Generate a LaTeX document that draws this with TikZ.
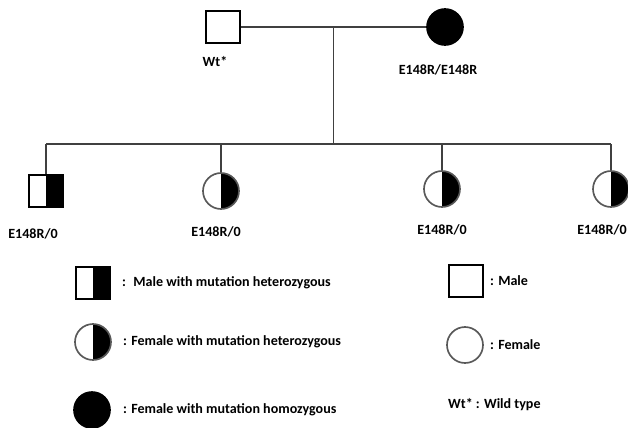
\documentclass[tikz,border=0pt]{standalone}
\usepackage[svgnames]{xcolor}
\usepackage{fontspec}
\setmainfont{Carlito}
\usetikzlibrary{calc}

\begin{document}
\begin{tikzpicture}[x=0.3mm,y=-0.3mm,
        font=\bfseries\fontsize{12}{14}\selectfont,
        male/.style={draw=black,line width=0.55mm,minimum width=10.2mm,minimum height=9.6mm,inner sep=0pt},
        female/.style={circle,draw=black!65,line width=0.5mm,minimum size=10.8mm,inner sep=0pt},
        halfright/.style={path picture={\fill[black] (path picture bounding box.north) rectangle (path picture bounding box.south east);}},
        affected/.style={fill=black,draw=black},
        link/.style={draw=black!75,line width=0.55mm}]
            \useasboundingbox (0,0) rectangle (628,427);
            % parents
            \node[male] (father) at (223,27) {};
            \node[female,affected] (mother) at (445,27) {};
            \node (wt) at (215,62) {Wt*};
            \node (hom) at (438,70) {E148R/E148R};
            \draw[link] (father) -- (mother);
            \coordinate (mid) at ($(father.east)!0.5!(mother.west)$);
            \coordinate (sib) at ($(mid)+(0,117)$);
            % children
            \node[male,halfright] (son) at (46,191) {};
            \node[female,halfright] (d1) at (221,191) {};
            \node[female,halfright] (d2) at (442,189) {};
            \node[female,halfright] (d3) at (611,189) {};
            \node (l1) at (33,234) {E148R/0};
            \node (l2) at (216,232) {E148R/0};
            \node (l3) at (442,230) {E148R/0};
            \node (l4) at (602,230) {E148R/0};
            \draw[link] (mid) -- (sib);
            \draw[link] (son |- sib) -- (d3 |- sib);
            \foreach \c in {son,d1,d2,d3}
                \draw[link] (\c |- sib) -- (\c);
            % key
            \node[male,halfright] (kmhet) at (93,283) {};
            \node[anchor=west] (tmhet) at (118,283) {:~ Male with mutation heterozygous};
            \node[female,halfright] (kfhet) at (93,342) {};
            \node[anchor=west] (tfhet) at (119,342) {: Female with mutation heterozygous};
            \node[female,affected] (kfhom) at (92,410) {};
            \node[anchor=west] (tfhom) at (119,410) {: Female with mutation homozygous};
            \node[male] (km) at (466,281) {};
            \node[anchor=west] (tm) at (486,281) {: Male};
            \node[female] (kf) at (465,345) {};
            \node[anchor=west] (tf) at (486,345) {: Female};
            \node[anchor=west] (twt) at (444,405) {Wt* : Wild type};
        \end{tikzpicture}
\end{document}
